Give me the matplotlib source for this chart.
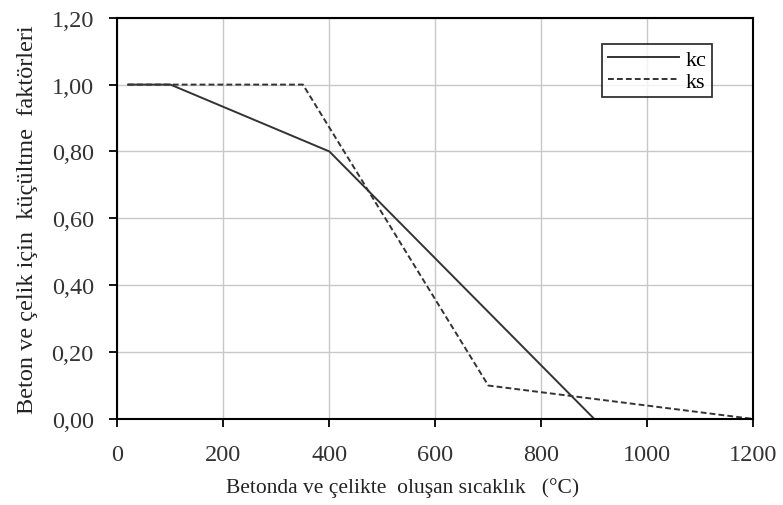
import matplotlib
matplotlib.use("Agg")
import matplotlib.pyplot as plt
from matplotlib.ticker import FuncFormatter

plt.rcParams['font.family'] = ['Liberation Serif', 'DejaVu Serif']

# data
kc_x = [20, 100, 400, 900]
kc_y = [1.0, 1.0, 0.8, 0.0]
ks_x = [20, 350, 700, 1200]
ks_y = [1.0, 1.0, 0.1, 0.0]

xticks = [0, 200, 400, 600, 800, 1000, 1200]
yticks = [0.0, 0.2, 0.4, 0.6, 0.8, 1.0, 1.2]

fig = plt.figure(figsize=(7.83, 5.06), dpi=100)
ax = fig.add_axes([0.150, 0.170, 0.812, 0.793])

ax.plot(kc_x, kc_y, color='#333333', lw=1.4, label='kc')
ax.plot(ks_x, ks_y, color='#333333', lw=1.4, ls=(0, (3, 1.6)), label='ks')

ax.set_xlim(0, 1200)
ax.set_ylim(0, 1.2)
ax.set_xticks(xticks)
ax.set_yticks(yticks)
ax.yaxis.set_major_formatter(FuncFormatter(lambda v, p: ('%.2f' % v).replace('.', ',')))
ax.grid(True, color='#c8c8c8', lw=1.0)
ax.set_axisbelow(True)
for s in ax.spines.values():
    s.set_linewidth(1.5)
    s.set_color('black')
ax.tick_params(direction='out', length=6, width=1.3, labelsize=17.5, colors='black')
ax.tick_params(axis='x', pad=12)
ax.tick_params(axis='y', pad=11)
for t in ax.get_xticklabels() + ax.get_yticklabels():
    t.set_color('#333333')

ax.set_xlabel('Betonda ve çelikte  oluşan sıcaklık   (°C)', fontsize=15.5, color='#222222')
ax.xaxis.set_label_coords(0.448, -0.145)
ax.set_ylabel('Beton ve çelik için  küçültme  faktörleri', fontsize=17.5, color='#222222')
ax.yaxis.set_label_coords(-0.125, 0.5)

leg = ax.legend(loc='upper right', bbox_to_anchor=(0.935, 0.935), fontsize=16, frameon=True,
                fancybox=False, edgecolor='black', handlelength=3.2, handletextpad=0.3,
                borderpad=0.25, labelspacing=0.05, borderaxespad=0)
leg.get_frame().set_linewidth(1.3)

fig.savefig('out.png', dpi=100)
